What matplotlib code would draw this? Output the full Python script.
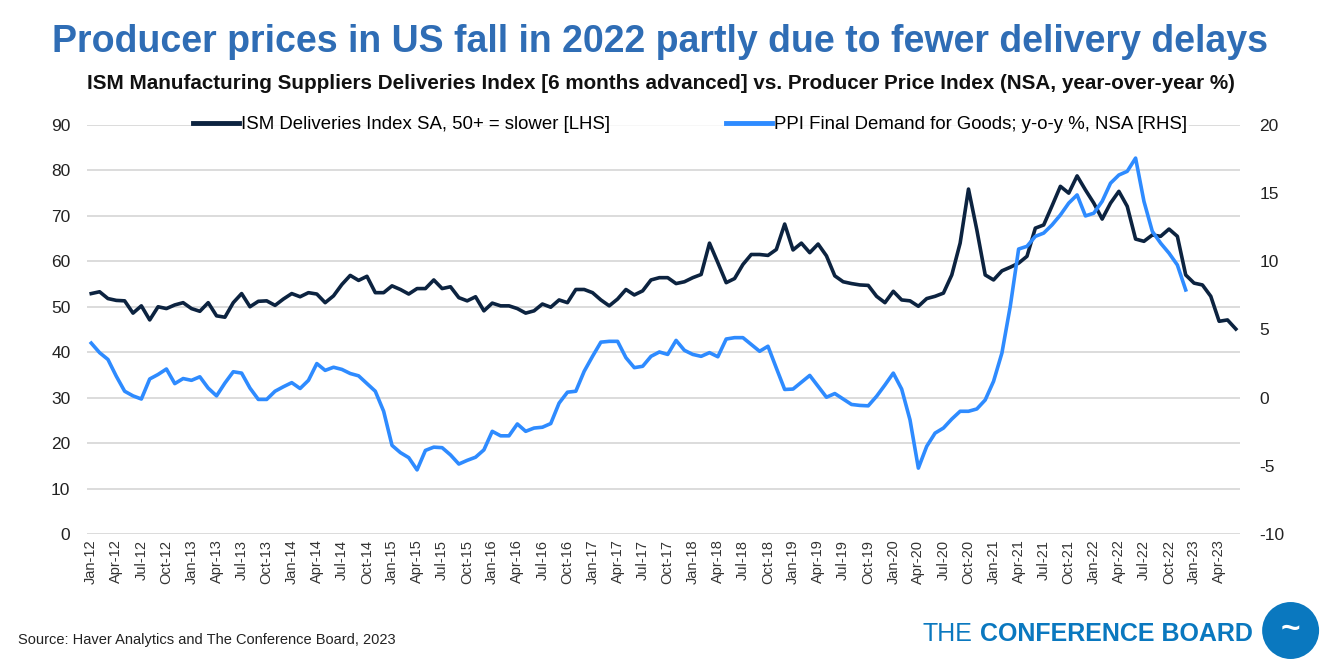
import matplotlib
matplotlib.use("Agg")
import matplotlib.pyplot as plt
import pandas as pd
from matplotlib.patches import Circle

plt.rcParams["font.family"] = ["Liberation Sans", "DejaVu Sans"]
plt.rcParams["axes.unicode_minus"] = False

# ISM suppliers deliveries index, 6 months advanced, Jan-12 .. Jun-23
ism = [
    52.9, 53.3, 51.8, 51.4, 51.3, 48.6, 50.2, 47.1, 50.0, 49.6, 50.4, 50.9,
    49.6, 49.0, 50.9, 48.0, 47.7, 50.9, 52.9, 50.0, 51.2, 51.3, 50.3, 51.7,
    52.9, 52.2, 53.1, 52.8, 50.9, 52.4, 54.9, 56.9, 55.8, 56.7, 53.1, 53.1,
    54.6, 53.8, 52.8, 54.0, 54.0, 55.9, 54.0, 54.4, 52.0, 51.3, 52.2, 49.1,
    50.8, 50.2, 50.2, 49.6, 48.6, 49.1, 50.6, 49.9, 51.5, 50.9, 53.8, 53.8,
    53.1, 51.5, 50.2, 51.7, 53.8, 52.6, 53.5, 55.9, 56.4, 56.4, 55.1, 55.5,
    56.4, 57.1, 64.0, 59.7, 55.3, 56.2, 59.3, 61.5, 61.5, 61.3, 62.6, 68.2,
    62.5, 64.0, 61.9, 63.8, 61.2, 56.8, 55.5, 55.1, 54.8, 54.7, 52.3, 50.9,
    53.4, 51.5, 51.3, 50.1, 51.8, 52.3, 53.0, 57.0, 64.0, 75.9, 66.9, 57.0,
    55.9, 57.9, 58.7, 59.6, 61.1, 67.3, 68.0, 72.2, 76.5, 75.0, 78.8, 75.7,
    72.8, 69.3, 72.8, 75.4, 72.1, 64.9, 64.4, 65.8, 65.5, 67.1, 65.5, 57.0,
    55.2, 54.8, 52.3, 46.8, 47.1, 45.1,
]

# PPI final demand for goods, y-o-y %, Jan-12 .. Dec-22
ppi = [
    4.0, 3.3, 2.8, 1.57, 0.47, 0.13, -0.1, 1.37, 1.7, 2.1, 1.03, 1.4,
    1.27, 1.53, 0.7, 0.13, 1.07, 1.9, 1.8, 0.7, -0.13, -0.13, 0.47, 0.8,
    1.1, 0.67, 1.27, 2.5, 2.0, 2.23, 2.07, 1.77, 1.6, 1.03, 0.47, -1.0,
    -3.5, -4.03, -4.4, -5.3, -3.87, -3.63, -3.67, -4.2, -4.87, -4.6, -4.37, -3.83,
    -2.47, -2.8, -2.8, -1.93, -2.47, -2.23, -2.17, -1.9, -0.4, 0.4, 0.47, 1.93,
    3.03, 4.07, 4.13, 4.13, 2.93, 2.2, 2.3, 3.03, 3.35, 3.17, 4.2, 3.47,
    3.17, 3.03, 3.3, 3.0, 4.3, 4.4, 4.4, 3.9, 3.4, 3.77, 2.17, 0.6,
    0.63, 1.13, 1.63, 0.83, 0.03, 0.3, -0.1, -0.5, -0.57, -0.6, 0.1, 0.93,
    1.8, 0.63, -1.63, -5.17, -3.57, -2.6, -2.23, -1.57, -1.0, -1.0, -0.83, -0.17,
    1.2, 3.27, 6.7, 10.9, 11.1, 11.83, 12.07, 12.67, 13.4, 14.27, 14.87, 13.33,
    13.53, 14.4, 15.73, 16.33, 16.6, 17.57, 14.4, 12.2, 11.33, 10.6, 9.73, 7.9,
]

months = pd.date_range("2012-01-01", periods=len(ism), freq="MS")
month_labels = [d.strftime("%b-%y") for d in months]

ism_label = "ISM Deliveries Index SA, 50+ = slower [LHS]"
ppi_label = "PPI Final Demand for Goods; y-o-y %, NSA [RHS]"
title = "Producer prices in US fall in 2022 partly due to fewer delivery delays"
subtitle = ("ISM Manufacturing Suppliers Deliveries Index [6 months advanced] "
            "vs. Producer Price Index (NSA, year-over-year %)")
source = "Source: Haver Analytics and The Conference Board, 2023"

NAVY = "#0c2340"
BLUE = "#2e8bff"
TITLE_BLUE = "#2f6db5"
LOGO_BLUE = "#0a78bf"

fig = plt.figure(figsize=(13.21, 6.63), dpi=100)
ax = fig.add_axes([0.0659, 0.1946, 0.8728, 0.6169])
ax2 = ax.twinx()

x = list(range(len(ism)))
ax.plot(x, ism, color=NAVY, lw=2.6, label=ism_label, solid_joinstyle="round")
ax2.plot(x[:len(ppi)], ppi, color=BLUE, lw=2.6, label=ppi_label, solid_joinstyle="round")

ax.set_xlim(-0.5, len(ism) - 0.5)
ax.set_ylim(0, 90)
ax.set_yticks(range(0, 91, 10))
ax2.set_ylim(-10, 20)
ax2.set_yticks(range(-10, 21, 5))

ax.set_xticks(x[::3])
ax.set_xticklabels(month_labels[::3], rotation=90, fontsize=10.5, color="#333333")
ax.tick_params(axis="x", length=0, pad=4)
ax.tick_params(axis="y", length=0, labelsize=12.5, labelcolor="#222222", pad=12)
ax2.tick_params(axis="y", length=0, labelsize=12.5, labelcolor="#222222", pad=14)

ax.grid(axis="y", color="#d9d9d9", lw=1.3)
ax.set_axisbelow(True)
for a in (ax, ax2):
    for s in a.spines.values():
        s.set_visible(False)

h1, l1 = ax.get_legend_handles_labels()
h2, l2 = ax2.get_legend_handles_labels()
leg = ax2.legend(h1 + h2, l1 + l2, loc="center", bbox_to_anchor=(0.523, 1.0), ncol=2,
                 frameon=True, fontsize=13.4, handlelength=2.5, handletextpad=0.1,
                 columnspacing=6.2, borderpad=0.1)
leg.get_frame().set_facecolor("white")
leg.get_frame().set_edgecolor("none")
for line in leg.get_lines():
    line.set_linewidth(3.5)

fig.text(0.5, 0.937, title, ha="center", va="center", fontsize=27,
         fontweight="bold", color=TITLE_BLUE)
fig.text(0.5, 0.874, subtitle, ha="center", va="center", fontsize=14.9,
         fontweight="bold", color="#111111")
fig.text(0.0136, 0.035, source, ha="left", va="center", fontsize=10.5, color="#222222")

# logo text + emblem
fig.text(0.698, 0.043, "THE", ha="left", va="center", fontsize=18, color=LOGO_BLUE)
fig.text(0.742, 0.043, "CONFERENCE BOARD", ha="left", va="center", fontsize=18,
         fontweight="bold", color=LOGO_BLUE)
lax = fig.add_axes([0.955, 0.005, 0.044, 0.088])
lax.set_aspect("equal")
lax.set_xlim(-1, 1)
lax.set_ylim(-1, 1)
lax.axis("off")
lax.add_patch(Circle((0, 0), 0.98, facecolor=LOGO_BLUE, edgecolor="none"))
lax.text(0, 0.05, "~", ha="center", va="center", fontsize=24, fontweight="bold",
         color="white")

fig.savefig("out.png", dpi=100)
